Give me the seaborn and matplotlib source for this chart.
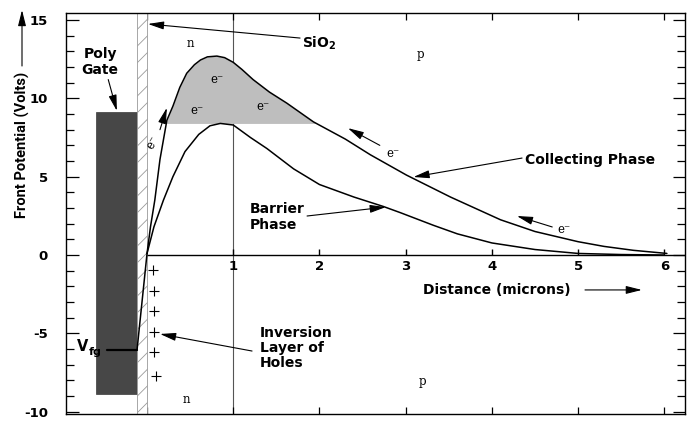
import numpy as np
import pandas as pd
import matplotlib
matplotlib.use('Agg')
import matplotlib.pyplot as plt
import seaborn as sns
from matplotlib.patches import Rectangle
from matplotlib.ticker import MultipleLocator

# potential profiles (distance in microns, front potential in volts)
collect_x = [0.0, 0.04, 0.09, 0.15, 0.23, 0.3, 0.38, 0.46, 0.55, 0.62, 0.7, 0.81, 0.9, 1.0, 1.1, 1.23,
             1.42, 1.62, 1.93, 2.3, 2.59, 3.01, 3.52, 4.1, 4.5, 5.0, 5.3, 5.64, 6.03]
collect_v = [0.1, 1.8, 3.5, 6.1, 8.6, 9.5, 10.7, 11.6, 12.15, 12.45, 12.65, 12.7, 12.6, 12.3, 11.85, 11.2,
             10.4, 9.7, 8.5, 7.4, 6.4, 5.1, 3.7, 2.25, 1.5, 0.85, 0.55, 0.3, 0.1]
barrier_x = [0.0, 0.08, 0.19, 0.3, 0.44, 0.6, 0.73, 0.85, 1.0, 1.2, 1.39, 1.7, 2.0, 2.4, 2.74, 2.94,
             3.32, 3.6, 4.0, 4.5, 5.0, 5.5, 6.0]
barrier_v = [0.1, 1.8, 3.5, 5.0, 6.6, 7.7, 8.25, 8.4, 8.3, 7.5, 6.8, 5.5, 4.5, 3.7, 3.1, 2.7,
             1.9, 1.35, 0.77, 0.35, 0.1, 0.03, 0.0]
barrier_top = 8.4          # level of the barrier peak, bottom of the stored charge

# oxide and gate
oxide_left, oxide_right = -0.116, 0.0
v_fg = -6.06
oxide_x = [oxide_left, oxide_right]
oxide_v = [v_fg, 0.1]
gate_left, gate_right = -0.59, -0.116
gate_bottom, gate_top = -8.87, 9.1
vfg_line_x = [-0.464, -0.116]

# holes in the inversion layer
plus_x = [0.07, 0.08, 0.08, 0.08, 0.08, 0.10]
plus_v = [-0.96, -2.3, -3.57, -4.91, -6.19, -7.72]

xtick_vals = [0, 1, 2, 3, 4, 5, 6]
xlabel_vals = [1, 2, 3, 4, 5, 6]
ytick_vals = [-10, -5, 0, 5, 10, 15]

sns.set_theme(style='white', rc={'text.color': 'black', 'xtick.color': 'black',
                                 'ytick.color': 'black', 'axes.labelcolor': 'black'})
plt.rcParams['font.family'] = ['DejaVu Sans']
plt.rcParams['hatch.linewidth'] = 0.6

df = pd.concat([
    pd.DataFrame({'x': collect_x, 'v': collect_v, 'phase': 'Collecting'}),
    pd.DataFrame({'x': barrier_x, 'v': barrier_v, 'phase': 'Barrier'}),
], ignore_index=True)

fig = plt.figure(figsize=(6.89, 4.29), dpi=100)
ax = fig.add_axes([66/689, 15/429, 619/689, 401/429])
ax.set_xlim(-0.94, 6.24)
ax.set_ylim(-10.15, 15.45)

# stored charge above the barrier
cx = np.array(collect_x)
cv = np.array(collect_v)
ax.fill_between(cx, barrier_top, cv, where=cv >= barrier_top, interpolate=True,
                color='#bebebe', lw=0, zorder=1)

sns.lineplot(data=df, x='x', y='v', units='phase', estimator=None, color='black',
             lw=1.1, sort=False, ax=ax, zorder=3)

# gate and oxide
ax.add_patch(Rectangle((gate_left, gate_bottom), gate_right - gate_left, gate_top - gate_bottom,
                       facecolor='#474747', edgecolor='#3a3a3a', lw=0.5, zorder=2))
ax.add_patch(Rectangle((oxide_left, -10.15), oxide_right - oxide_left, 25.6,
                       facecolor='white', edgecolor='#999999', hatch='//', lw=0.6, zorder=2))
ax.plot(oxide_x, oxide_v, color='black', lw=1.1, zorder=3)
ax.plot(vfg_line_x, [v_fg, v_fg], color='black', lw=1.6, zorder=3)

sns.scatterplot(x=plus_x, y=plus_v, marker='+', s=45, color='black', linewidth=0.8, ax=ax, zorder=3)

# axes lines
ax.axvline(1, color='#555555', lw=0.8, zorder=0)
ax.hlines(0, 0, 6.24, color='black', lw=1.0, zorder=3)
ax.vlines(xlabel_vals, 0, 0.4, color='black', lw=1.0, zorder=3)
for xv in xlabel_vals:
    ax.text(xv, -0.35, str(xv), ha='center', va='top', fontsize=9.5, fontweight='bold')

for s in ax.spines.values():
    s.set_color('black')
    s.set_linewidth(1.0)
ax.set_xticks(xtick_vals)
ax.set_xticklabels([])
ax.tick_params(axis='x', direction='in', top=True, bottom=True, length=5, width=0.9, color='black')
ax.set_yticks(ytick_vals)
ax.set_yticklabels([str(v) for v in ytick_vals], fontweight='bold', fontsize=9.5)
ax.yaxis.set_minor_locator(MultipleLocator(1))
ax.tick_params(axis='y', which='major', direction='in', left=True, right=True, length=9, width=0.9,
               pad=13, color='black')
ax.tick_params(axis='y', which='minor', direction='in', left=True, right=True, length=6, width=0.9,
               color='black')
ax.set_xlabel('')
ax.set_ylabel('')

arrow = dict(arrowstyle='-|>,head_length=0.8,head_width=0.2', color='black', lw=0.8,
             shrinkA=0, shrinkB=0)
bold = dict(fontsize=10, fontweight='bold')

ax.text(-0.545, 12.3, 'Poly\nGate', ha='center', va='center', linespacing=1.2, **bold)
ax.annotate('', xy=(-0.35, 9.2), xytext=(-0.45, 11.2), arrowprops=arrow)
ax.text(1.80, 13.5, r'SiO$_\mathbf{2}$', ha='left', va='center', **bold)
ax.annotate('', xy=(0.01, 14.75), xytext=(1.775, 13.85), arrowprops=arrow)

ax.text(4.385, 6.06, 'Collecting Phase', ha='left', va='center', **bold)
ax.annotate('', xy=(3.09, 4.98), xytext=(4.35, 6.19), arrowprops=arrow)
ax.text(1.195, 2.42, 'Barrier\nPhase', ha='left', va='center', linespacing=1.2, **bold)
ax.annotate('', xy=(2.77, 3.06), xytext=(1.856, 2.49), arrowprops=arrow)
ax.text(3.2, -2.23, 'Distance (microns)', ha='left', va='center', **bold)
ax.annotate('', xy=(5.74, -2.23), xytext=(5.08, -2.23), arrowprops=arrow)
ax.text(1.31, -5.93, 'Inversion\nLayer of\nHoles', ha='left', va='center', linespacing=1.1, **bold)
ax.annotate('', xy=(0.15, -5.04), xytext=(1.218, -6.13), arrowprops=arrow)
ax.text(-0.81, -5.87, 'V', ha='left', va='center', fontsize=10.5, fontweight='bold')
ax.text(-0.68, -6.2, 'fg', ha='left', va='center', fontsize=8, fontweight='bold')

serif = dict(family='DejaVu Serif', fontsize=8.5)
ax.text(0.5, 13.5, 'n', ha='center', va='center', **serif)
ax.text(3.17, 12.8, 'p', ha='center', va='center', **serif)
ax.text(0.46, -9.25, 'n', ha='center', va='center', **serif)
ax.text(3.2, -8.1, 'p', ha='center', va='center', **serif)

ax.text(0.81, 11.2, 'e⁻', ha='center', va='center', **serif)
ax.text(0.58, 9.25, 'e⁻', ha='center', va='center', **serif)
ax.text(1.35, 9.45, 'e⁻', ha='center', va='center', **serif)
ax.text(0.06, 7.15, 'e⁻', ha='center', va='center', rotation=60, **serif)
ax.annotate('', xy=(0.23, 9.4), xytext=(0.15, 8.0), arrowprops=arrow)
ax.text(2.78, 6.5, 'e⁻', ha='left', va='center', **serif)
ax.annotate('', xy=(2.33, 8.1), xytext=(2.70, 7.0), arrowprops=arrow)
ax.text(4.76, 1.65, 'e⁻', ha='left', va='center', **serif)
ax.annotate('', xy=(4.29, 2.49), xytext=(4.70, 1.79), arrowprops=arrow)

# y axis title with its arrow
fig.text(22/689, 1 - 145/429, 'Front Potential (Volts)', rotation=90, ha='center', va='center',
         family=['Roboto', 'DejaVu Sans'], fontsize=10.5, fontweight='bold')
ax.annotate('', xy=(22/689, 1 - 10/429), xytext=(22/689, 1 - 66/429), xycoords='figure fraction',
            textcoords='figure fraction', arrowprops=arrow)

fig.savefig('out.png', dpi=100)
